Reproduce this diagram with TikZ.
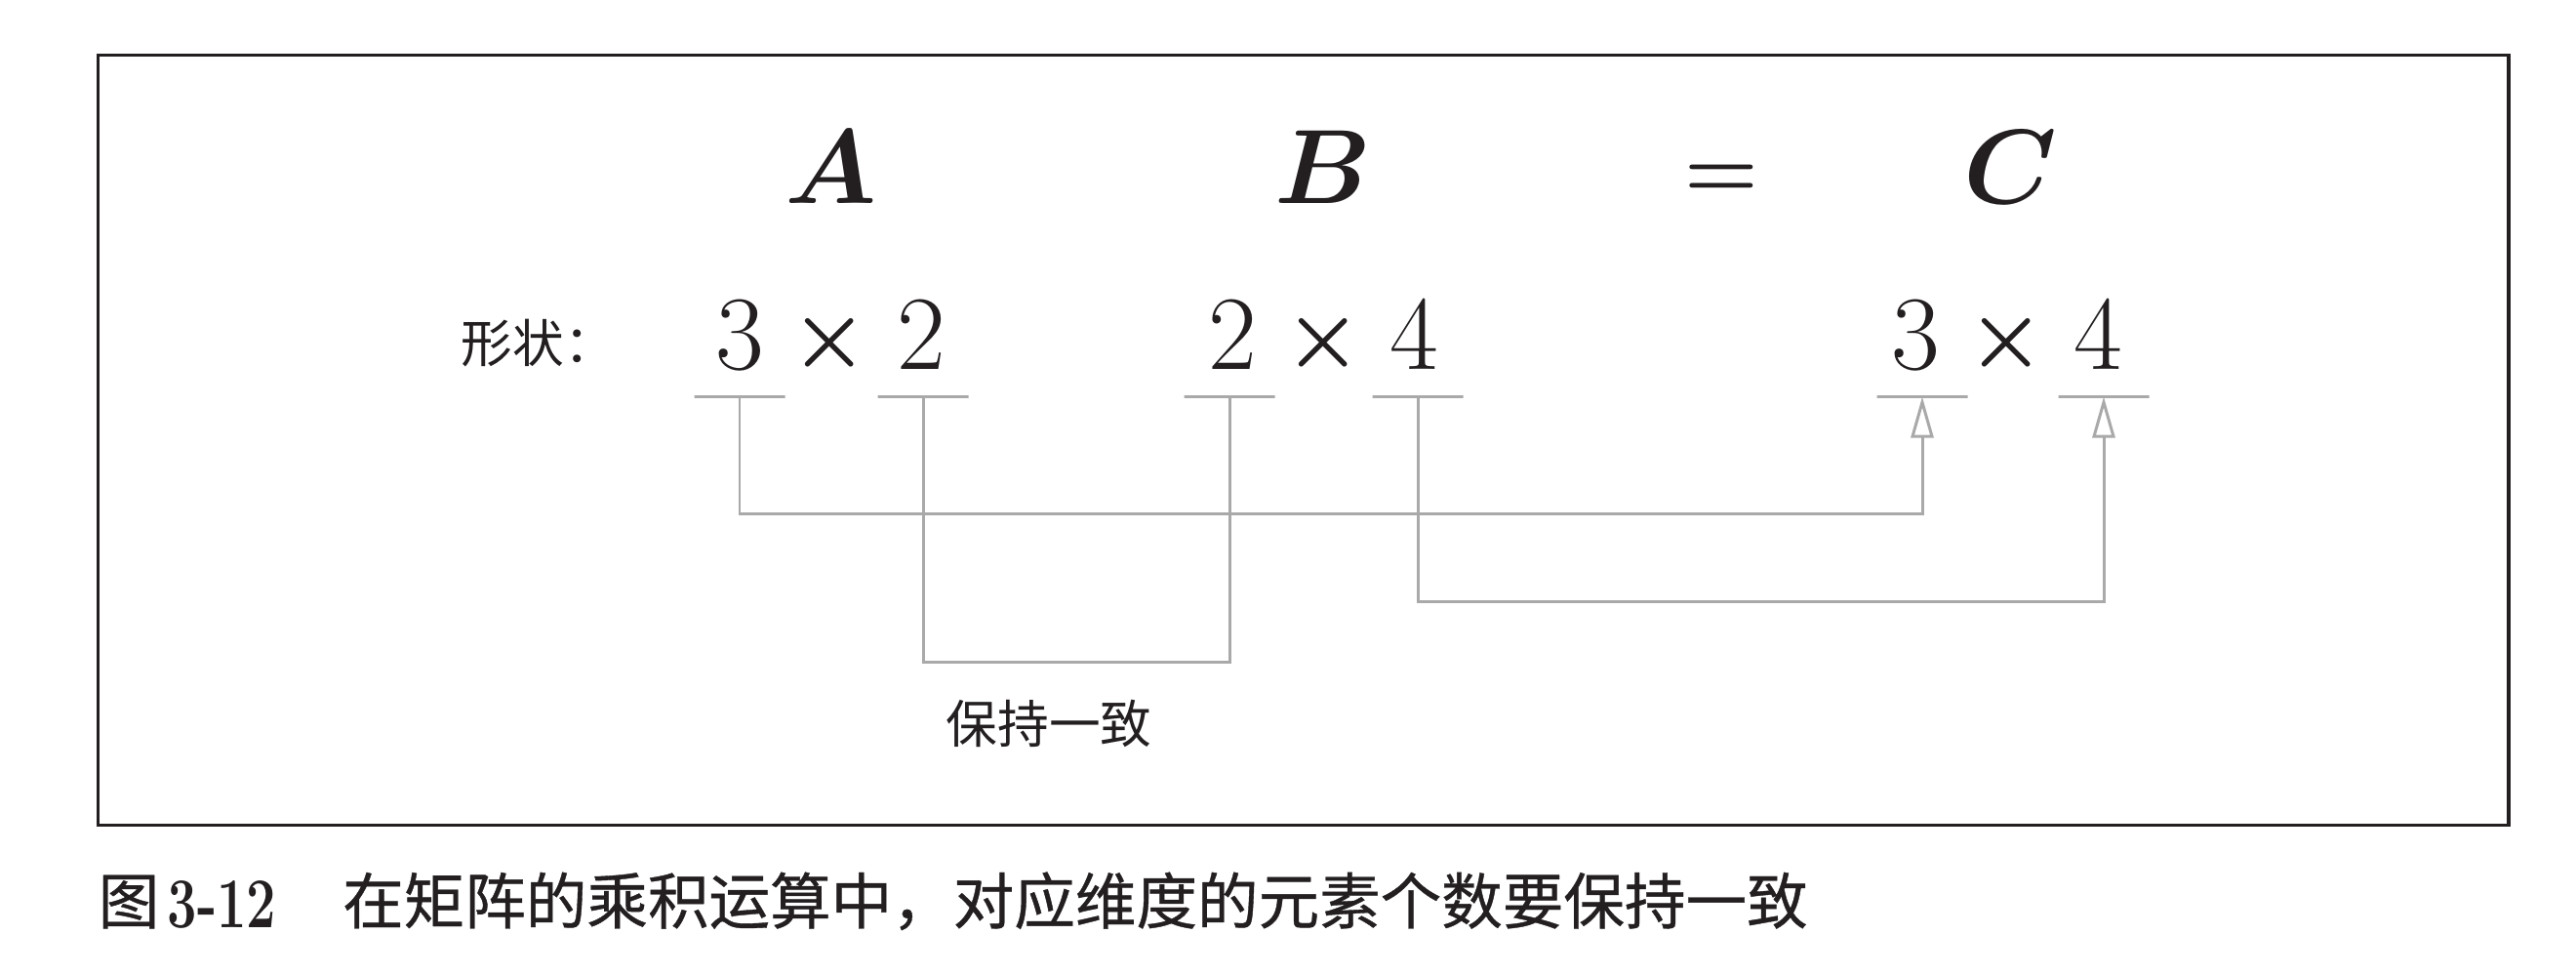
\documentclass[tikz,border=0pt]{standalone}
\usepackage{amsmath}
\usepackage{bm}
\usepackage{graphicx}
\usepackage{fontspec}
\newfontfamily\cjk{Noto Sans CJK SC}
\newfontfamily\cjkcap[FakeBold=0.6]{Noto Sans CJK SC}
\usetikzlibrary{arrows.meta,calc}
\definecolor{ink}{HTML}{231F20}
\definecolor{linegray}{HTML}{A9A9A9}
\newcommand{\mbig}[1]{\scalebox{1.238}{#1}}
\newcommand{\mytimes}{\raisebox{1.1pt}{\scalebox{0.82}{$\bm{\times}$}}}
\newcommand{\myeq}{\raisebox{1.24pt}{\scalebox{0.8}{$\bm{=}$}}}
\tikzset{
  frame/.style={draw=ink, line width=0.9pt},
  bigmath/.style={anchor=base, inner sep=0pt, text=ink, font=\Huge},
  num/.style={anchor=base, inner sep=0pt, text=ink, font=\Huge},
  uline/.style={draw=linegray, line width=0.9pt, minimum width=0.93cm, minimum height=0pt, inner sep=0pt, outer sep=0pt, shape=rectangle},
  conn/.style={draw=linegray, line width=0.85pt},
  harrow/.style={-{Triangle[open, length=0.42cm, width=0.23cm, line width=0.85pt]}},
  cjklabel/.style={inner sep=0pt, text=ink, font=\cjk\fontsize{15}{18}\selectfont},
  captext/.style={anchor=base west, inner sep=0pt, text=ink, font=\cjkcap\fontsize{17.8}{21}\selectfont}
}
\begin{document}
\begin{tikzpicture}
\useasboundingbox (0,0) rectangle (26.4,-9.98);
\draw[frame] (1.005,-0.565) rectangle (25.71,-8.455);

% headers
\node[bigmath] (A) at (8.52,-2.08) {\mbig{$\bm{A}$}};
\node[bigmath] (B) at (13.56,-2.08) {\mbig{$\bm{B}$}};
\node[bigmath] (eq) at (17.64,-2.08) {\mbig{\myeq}};
\node[bigmath] (C) at (20.60,-2.08) {\mbig{$\bm{C}$}};

% shape label
\node[cjklabel, anchor=west] (shape) at (4.72,-3.52) {形状：};

% dimensions
\node[num] (a3) at (7.58,-3.78) {\mbig{$3$}};
\node[num] (ax) at (8.50,-3.78) {\mbig{\mytimes}};
\node[num] (a2) at (9.44,-3.78) {\mbig{$2$}};
\node[num] (b2) at (12.63,-3.78) {\mbig{$2$}};
\node[num] (bx) at (13.56,-3.78) {\mbig{\mytimes}};
\node[num] (b4) at (14.49,-3.78) {\mbig{$4$}};
\node[num] (c3) at (19.63,-3.78) {\mbig{$3$}};
\node[num] (cx) at (20.56,-3.78) {\mbig{\mytimes}};
\node[num] (c4) at (21.50,-3.78) {\mbig{$4$}};

% underlines
\node[uline] (u1) at (7.58,-4.065) {};
\node[uline] (u2) at (9.46,-4.065) {};
\node[uline] (ub2) at (12.60,-4.065) {};
\node[uline] (ub4) at (14.53,-4.065) {};
\node[uline] (uc3) at (19.70,-4.065) {};
\node[uline] (uc4) at (21.56,-4.065) {};

% levels
\coordinate (L1) at (0,-5.26);
\coordinate (L2) at (0,-6.78);
\coordinate (L3) at (0,-6.16);

% connectors
\draw[conn, harrow] (u1.center) -- (u1.center |- L1) -| (uc3.center);
\draw[conn] (u2.center) -- (u2.center |- L2) -| (ub2.center);
\draw[conn, harrow] (ub4.center) -- (ub4.center |- L3) -| (uc4.center);

\node[cjklabel, anchor=center] (keep) at (10.75,-7.41) {保持一致};

% caption
\node[captext] (fig) at (1.00,-9.465) {图};
\node[anchor=base west, inner sep=0pt, text=ink] (fignum) at (1.71,-9.50) {\scalebox{0.74}[1]{\bfseries\fontsize{20.8}{24}\selectfont 3-12}};
\node[captext] (captxt) at (3.505,-9.465) {在矩阵的乘积运算中，对应维度的元素个数要保持一致};
\end{tikzpicture}
\end{document}
